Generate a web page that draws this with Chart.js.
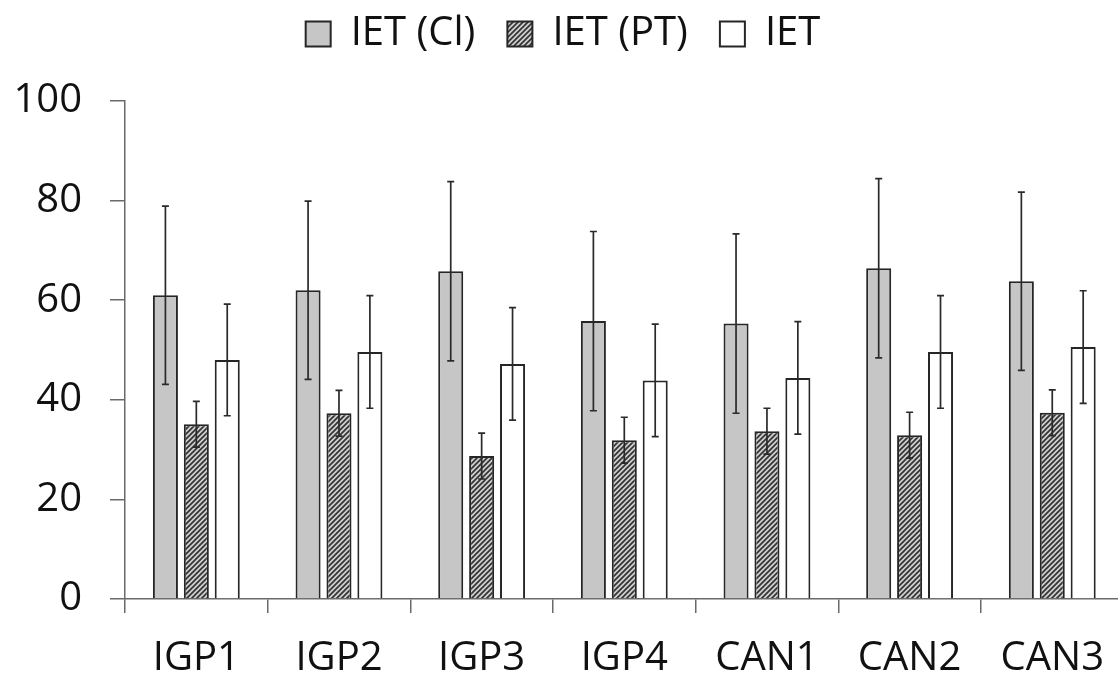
<!DOCTYPE html>
<html>
<head>
<meta charset="utf-8">
<script src="https://cdn.jsdelivr.net/npm/chart.js@4/dist/chart.umd.min.js"></script>
<style>
  html, body { margin: 0; padding: 0; background: #fff; overflow: hidden; }
  #wrap { width: 1126px; height: 676px; }
</style>
</head>
<body>
<div id="wrap"><canvas id="ietChart"></canvas></div>
<script>
// values
var sites = ["IGP1", "IGP2", "IGP3", "IGP4", "CAN1", "CAN2", "CAN3"];
var seriesNames = ["IET (Cl)", "IET (PT)", "IET"];
var ietCl = [61.0, 62.0, 65.8, 55.8, 55.3, 66.4, 63.8];
var ietPt = [35.1, 37.3, 28.7, 31.9, 33.7, 32.9, 37.4];
var ietAll = [48.0, 49.6, 47.2, 43.9, 44.4, 49.6, 50.6];
var errCl = [17.9, 17.9, 18.0, 18.0, 18.0, 18.0, 17.9];
var errPt = [4.6, 4.6, 4.6, 4.6, 4.6, 4.6, 4.6];
var errAll = [11.2, 11.3, 11.3, 11.3, 11.3, 11.3, 11.3];
var yTicks = [0, 20, 40, 60, 80, 100];

// hatched fill for the PT series
function makeHatch() {
  var c = document.createElement('canvas');
  c.width = 5; c.height = 5;
  var g = c.getContext('2d');
  g.fillStyle = '#cfcfcf';
  g.fillRect(0, 0, 5, 5);
  g.strokeStyle = '#333';
  g.lineWidth = 1.7;
  g.beginPath();
  g.moveTo(-1, 6); g.lineTo(6, -1);
  g.moveTo(-1, 1); g.lineTo(1, -1);
  g.moveTo(4, 6); g.lineTo(6, 4);
  g.stroke();
  return g.createPattern(c, 'repeat');
}

// draws the +/- error whiskers on top of each bar
var errorBars = {
  id: 'errorBars',
  afterDatasetsDraw: function(chart) {
    var ctx = chart.ctx;
    var y = chart.scales.y;
    ctx.save();
    ctx.strokeStyle = '#2a2a2a';
    ctx.lineWidth = 1.7;
    chart.data.datasets.forEach(function(ds, i) {
      var meta = chart.getDatasetMeta(i);
      meta.data.forEach(function(bar, j) {
        var v = ds.data[j], e = ds.errors[j];
        var top = y.getPixelForValue(v + e);
        var bot = y.getPixelForValue(v - e);
        ctx.beginPath();
        ctx.moveTo(bar.x, top); ctx.lineTo(bar.x, bot);
        ctx.moveTo(bar.x - 3.5, top); ctx.lineTo(bar.x + 3.5, top);
        ctx.moveTo(bar.x - 3.5, bot); ctx.lineTo(bar.x + 3.5, bot);
        ctx.stroke();
      });
    });
    ctx.restore();
  }
};

// legend box: fixed height so the plot starts at the 100 line, items lifted up
var legendPlace = {
  id: 'legendPlace',
  afterInit: function(chart) {
    var lg = chart.legend;
    var fit = lg.fit;
    lg.fit = function() {
      fit.call(this);
      this.height = 101;
    };
  },
  afterLayout: function(chart) {
    chart.legend.top = -18;
  }
};

window.onload = function() {
  var font = "'Open Sans', sans-serif";
  var ctx = document.getElementById('ietChart').getContext('2d');
  var chart = new Chart(ctx, {
    type: 'bar',
    data: {
      labels: sites,
      datasets: [{
        label: seriesNames[0],
        data: ietCl,
        errors: errCl,
        backgroundColor: '#c6c6c6',
        borderColor: '#262626',
        borderWidth: 2
      }, {
        label: seriesNames[1],
        data: ietPt,
        errors: errPt,
        backgroundColor: makeHatch(),
        borderColor: '#262626',
        borderWidth: 2
      }, {
        label: seriesNames[2],
        data: ietAll,
        errors: errAll,
        backgroundColor: '#ffffff',
        borderColor: '#262626',
        borderWidth: 2
      }]
    },
    options: {
      responsive: true,
      maintainAspectRatio: false,
      animation: false,
      categoryPercentage: 0.65,
      barPercentage: 0.81,
      layout: { padding: 0 },
      plugins: {
        tooltip: { enabled: false },
        legend: {
          position: 'top',
          labels: {
            color: '#111',
            font: { family: font, size: 40 },
            boxWidth: 25,
            boxHeight: 25,
            padding: 32
          }
        }
      },
      scales: {
        x: {
          grid: { drawOnChartArea: false, offset: true, tickLength: 14, color: '#6a6a6a', lineWidth: 1.5 },
          border: { color: '#6a6a6a', width: 1.5 },
          ticks: { color: '#111', font: { family: font, size: 40 }, padding: 22 },
          afterFit: function(s) { s.height = 77; }
        },
        y: {
          min: 0,
          max: 100,
          afterBuildTicks: function(s) { s.ticks = yTicks.map(function(v) { return { value: v }; }); },
          grid: { drawOnChartArea: false, tickLength: 15, color: '#6a6a6a', lineWidth: 1.5 },
          border: { color: '#6a6a6a', width: 1.5 },
          ticks: { color: '#111', font: { family: font, size: 40 }, padding: 28 },
          afterFit: function(s) { s.width = 125; }
        }
      }
    },
    plugins: [errorBars, legendPlace]
  });
};
</script>
</body>
</html>
